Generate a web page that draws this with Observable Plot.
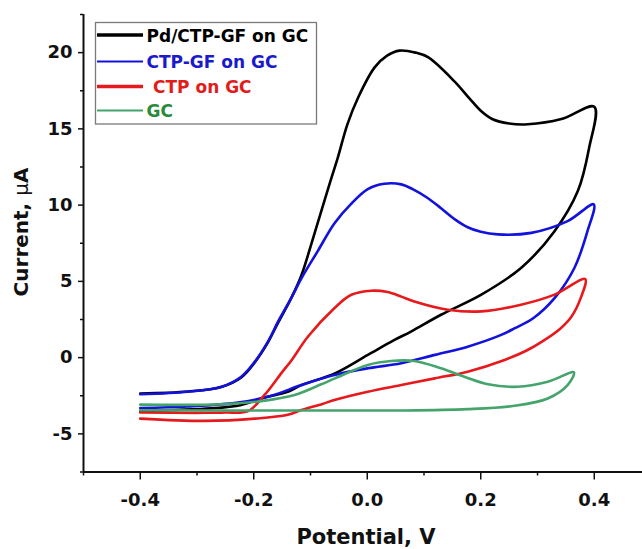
<!DOCTYPE html>
<html>
<head>
<meta charset="utf-8">
<script src="https://cdn.jsdelivr.net/npm/d3@7"></script>
<script src="https://cdn.jsdelivr.net/npm/@observablehq/plot@0.6"></script>
<style>
  html, body { margin: 0; padding: 0; background: #fff; }
  #chart { width: 642px; height: 549px; }
</style>
</head>
<body>
<div id="chart"></div>
<script>
// Series names and colours
const seriesNames = ["Pd/CTP-GF on GC", "CTP-GF on GC", "CTP on GC", "GC"];
const seriesColors = ["#000000", "#1212dc", "#e6191c", "#45a46c"];
const legendTextColors = ["#000000", "#1a1acc", "#e21b1b", "#2a8a3c"];

// Pd/CTP-GF on GC (potential V, current µA), full CV loop
const pdV = [-0.4, -0.316, -0.257, -0.222, -0.198, -0.175, -0.157, -0.134, -0.116, -0.099, -0.081, -0.063, -0.052, -0.035, -0.016, 0.013, 0.035, 0.057, 0.085, 0.107, 0.154, 0.18, 0.201, 0.22, 0.25, 0.283, 0.342, 0.4,
             0.391, 0.371, 0.33, 0.271, 0.201, 0.13, 0.077, 0.048, 0.001, -0.057, -0.116, -0.14, -0.187, -0.222, -0.275, -0.4];
const pdI = [-2.35, -2.22, -1.92, -1.3, -0.3, 1.0, 2.3, 3.9, 5.4, 7.4, 9.6, 11.8, 13.1, 15.3, 17.06, 19.03, 19.8, 20.13, 20.0, 19.7, 18.1, 17.0, 16.15, 15.65, 15.35, 15.3, 15.64, 16.45,
             13.77, 10.92, 8.29, 5.88, 4.13, 2.81, 1.71, 1.16, 0.18, -1.03, -1.8, -2.24, -2.68, -3.1, -3.33, -3.5];

// CTP-GF on GC
const gfV = [-0.4, -0.316, -0.257, -0.222, -0.198, -0.175, -0.157, -0.134, -0.116, -0.087, -0.058, -0.028, 0.001, 0.03, 0.06, 0.08, 0.105, 0.13, 0.155, 0.177, 0.2, 0.23, 0.289, 0.353, 0.399,
             0.388, 0.365, 0.33, 0.293, 0.26, 0.236, 0.177, 0.119, 0.06, 0.001, -0.058, -0.116, -0.169, -0.228, -0.316, -0.4];
const gfI = [-2.4, -2.24, -1.91, -1.25, -0.26, 1.05, 2.37, 3.9, 5.2, 7.0, 8.8, 10.1, 11.05, 11.4, 11.36, 11.05, 10.5, 9.8, 9.05, 8.55, 8.25, 8.08, 8.18, 8.95, 10.05,
             8.29, 5.88, 3.9, 2.6, 1.93, 1.49, 0.72, 0.18, -0.37, -0.7, -1.14, -1.8, -2.5, -2.95, -3.2, -3.3];

// CTP on GC
const ctpV = [-0.4, -0.3, -0.25, -0.21, -0.181, -0.151, -0.134, -0.104, -0.058, -0.028, 0.007, 0.036, 0.06, 0.083, 0.142, 0.201, 0.271, 0.33, 0.384,
              0.376, 0.36, 0.34, 0.31, 0.28, 0.242, 0.177, 0.119, 0.06, 0.001, -0.058, -0.08, -0.116, -0.14, -0.198, -0.286, -0.4];
const ctpI = [-3.6, -3.62, -3.6, -3.5, -2.45, -1.0, -0.2, 1.4, 3.24, 4.12, 4.39, 4.3, 4.0, 3.68, 3.14, 3.03, 3.47, 4.13, 5.15,
              3.9, 2.7, 1.9, 1.1, 0.45, -0.15, -0.92, -1.36, -1.8, -2.24, -2.78, -3.05, -3.44, -3.75, -4.0, -4.15, -4.0];

// GC
const gcV = [-0.4, -0.257, -0.187, -0.128, -0.081, -0.057, 0.001, 0.042, 0.083, 0.13, 0.171, 0.213, 0.265, 0.318, 0.364,
             0.353, 0.318, 0.259, 0.177, 0.06, -0.116, -0.4];
const gcI = [-3.08, -3.06, -2.85, -2.45, -1.75, -1.36, -0.48, -0.22, -0.22, -0.7, -1.25, -1.75, -1.91, -1.58, -0.97,
             -1.8, -2.68, -3.16, -3.38, -3.47, -3.47, -3.45];

// Axis ticks
const xMajor = [-0.4, -0.2, 0.0, 0.2, 0.4];
const xMinor = [-0.5, -0.3, -0.1, 0.1, 0.3];
const yMajor = [-5, 0, 5, 10, 15, 20];
const yMinor = [-7.5, -2.5, 2.5, 7.5, 12.5, 17.5, 22.5];

const xLabel = "Potential, V";

const toRows = (vs, is) => vs.map((v, k) => ({v, i: is[k]}));
const allSeries = [toRows(pdV, pdI), toRows(gfV, gfI), toRows(ctpV, ctpI), toRows(gcV, gcI)];

const font = "DejaVu Sans, Verdana, sans-serif";

const chart = Plot.plot({
  width: 642,
  height: 549,
  marginLeft: 83,
  marginRight: 0,
  marginTop: 14,
  marginBottom: 77.5,
  x: {domain: [-0.5, 0.485]},
  y: {domain: [-7.5, 22.5]},
  style: {fontFamily: font, fontWeight: "bold", fontSize: "18px", background: "white", color: "#111"},
  marks: [
    ...allSeries.map((rows, k) => Plot.line(rows, {
      x: "v", y: "i", stroke: seriesColors[k], strokeWidth: 2.6, curve: "catmull-rom"
    })),
    Plot.axisX({ticks: xMajor, tickSize: 8, tickPadding: 13, strokeWidth: 1.5, tickFormat: d => d.toFixed(1), label: null, fill: "#111"}),
    Plot.axisX({ticks: xMinor, tickSize: 4, strokeWidth: 1.5, tickFormat: () => "", label: null}),
    Plot.axisY({ticks: yMajor, tickSize: 5, tickPadding: 6, strokeWidth: 1.5, tickFormat: d => String(d), label: null, fill: "#111"}),
    Plot.axisY({ticks: yMinor, tickSize: 3, strokeWidth: 1.5, tickFormat: () => "", label: null}),
    Plot.ruleX([-0.5], {stroke: "#111", strokeWidth: 2}),
    Plot.ruleY([-7.5], {stroke: "#111", strokeWidth: 2})
  ]
});

document.getElementById("chart").appendChild(chart);

const svg = d3.select(chart);

// Axis titles
svg.append("text")
  .attr("x", 366).attr("y", 544)
  .attr("text-anchor", "middle")
  .attr("font-family", font).attr("font-weight", "bold").attr("font-size", 21)
  .attr("fill", "#111")
  .text(xLabel);

const yl = svg.append("text")
  .attr("transform", "translate(28,232) rotate(-90)")
  .attr("text-anchor", "middle")
  .attr("font-family", font).attr("font-weight", "bold").attr("font-size", 20)
  .attr("fill", "#111");
yl.append("tspan").text("Current, ");
yl.append("tspan").attr("font-weight", "normal").text("\u03bc");
yl.append("tspan").text("A");

// Legend
const lg = svg.append("g").attr("text-anchor", "start");
lg.append("rect")
  .attr("x", 95.5).attr("y", 22.5).attr("width", 221).attr("height", 101.5)
  .attr("fill", "white").attr("stroke", "#7a7a7a").attr("stroke-width", 1.3);
const legY = [35, 61.5, 86.5, 110.5];
const legW = [3.4, 2.2, 3.4, 2.2];
const legTextX = [146.5, 146.5, 153, 146.5];
seriesNames.forEach((name, k) => {
  lg.append("line")
    .attr("x1", 97).attr("x2", 143).attr("y1", legY[k]).attr("y2", legY[k])
    .attr("stroke", seriesColors[k]).attr("stroke-width", legW[k]);
  lg.append("text")
    .attr("x", legTextX[k]).attr("y", legY[k] + 6.5)
    .attr("text-anchor", "start")
    .attr("font-family", font).attr("font-weight", "bold").attr("font-size", 17)
    .attr("fill", legendTextColors[k])
    .text(name);
});
</script>
</body>
</html>
